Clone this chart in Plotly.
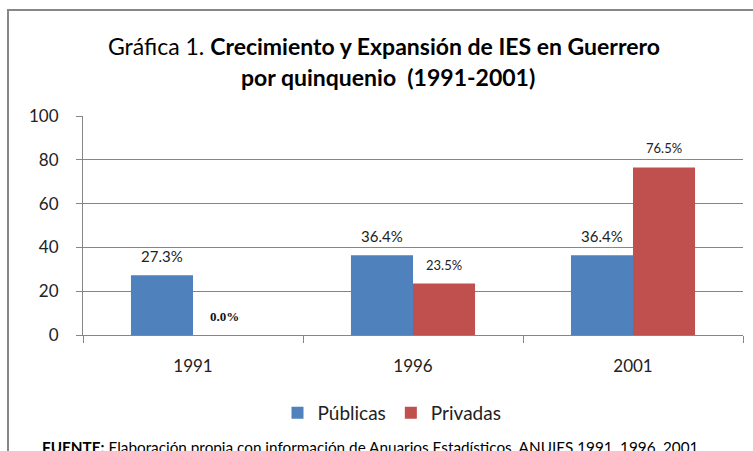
import plotly.graph_objects as go

years = ["1991", "1996", "2001"]
publicas = [27.3, 36.4, 36.4]
privadas = [0.0, 23.5, 76.5]
series_names = ["Públicas", "Privadas"]
y_ticks = [0, 20, 40, 60, 80, 100]

BLUE = "#4F81BD"
RED = "#C0504D"
FONT = "Lato"
W, H = 753, 451
L, R, T, B = 83, 10, 116, 116
PW = W - L - R
PH = H - T - B

def px_x(px):
    return (px - L) / PW

def px_y(py):
    return (H - B - py) / PH

fig = go.Figure()
fig.add_trace(go.Bar(x=years, y=publicas, name=series_names[0], marker=dict(color=BLUE, line=dict(width=0))))
fig.add_trace(go.Bar(x=years, y=privadas, name=series_names[1], marker=dict(color=RED, line=dict(width=0))))

annotations = []
for i, yr in enumerate(years):
    annotations.append(dict(x=i, y=publicas[i], xref="x", yref="y", text=f"{publicas[i]:.1f}%",
                            showarrow=False, xshift=-31, yshift=19,
                            font=dict(family=FONT, size=15, color="#222")))
    if privadas[i] == 0:
        annotations.append(dict(x=i, y=privadas[i], xref="x", yref="y", text=f"<b>{privadas[i]:.1f}%</b>",
                                showarrow=False, xshift=31, yshift=19,
                                font=dict(family="Liberation Serif", size=13, color="#111")))
    else:
        annotations.append(dict(x=i, y=privadas[i], xref="x", yref="y", text=f"{privadas[i]:.1f}%",
                                showarrow=False, xshift=31, yshift=19,
                                font=dict(family=FONT, size=13, color="#222")))

# title lines
annotations.append(dict(
    x=px_x(384), y=px_y(46), xref="paper", yref="paper", xanchor="center", yanchor="middle",
    text="Gráfica 1. <b>Crecimiento y Expansión de IES en Guerrero</b>",
    showarrow=False, font=dict(family=FONT, size=23, color="#000")))
annotations.append(dict(
    x=px_x(388), y=px_y(77), xref="paper", yref="paper", xanchor="center", yanchor="middle",
    text="<b>por quinquenio  (1991-2001)</b>",
    showarrow=False, font=dict(family=FONT, size=23, color="#000")))

annotations.append(dict(
    x=px_x(372), y=px_y(447), xref="paper", yref="paper", xanchor="center", yanchor="middle",
    text="<b>FUENTE:</b> Elaboración propia con información de Anuarios Estadísticos, ANUIES 1991, 1996, 2001.",
    showarrow=False, font=dict(family=FONT, size=15.3, color="#000")))

fig.update_layout(
    width=W, height=H,
    margin=dict(l=L, r=R, t=T, b=B, autoexpand=False),
    paper_bgcolor="white", plot_bgcolor="white",
    barmode="group", bargap=0.436, bargroupgap=0,
    legend=dict(orientation="h", xref="container", yref="container",
                x=392 / W, xanchor="center", y=(H - 413) / H, yanchor="middle",
                font=dict(family=FONT, size=19, color="#222"), itemclick=False),
    xaxis=dict(type="category", showline=True, linecolor="#868686", linewidth=1,
               ticks="outside", tickson="boundaries", ticklen=7, tickcolor="#868686",
               ticklabelstandoff=16,
               tickfont=dict(family=FONT, size=17, color="#222"), showgrid=False, automargin=False),
    yaxis=dict(range=[0, 100], tickvals=y_ticks, showline=True, linecolor="#868686", linewidth=1,
               ticks="outside", ticklen=6, tickcolor="#868686", showgrid=True, gridcolor="#868686",
               ticklabelstandoff=14,
               gridwidth=1, zeroline=False, tickfont=dict(family=FONT, size=17, color="#222"),
               automargin=False),
    annotations=annotations,
    shapes=[dict(type="rect", xref="paper", yref="paper",
                 x0=px_x(8), x1=px_x(760), y0=px_y(460), y1=px_y(10),
                 line=dict(color="#878787", width=2), fillcolor="rgba(0,0,0,0)", layer="below")],
)

fig.write_html("out.html", config={"displayModeBar": False},
               post_script="document.body.style.margin='0';document.body.style.overflow='hidden';")
